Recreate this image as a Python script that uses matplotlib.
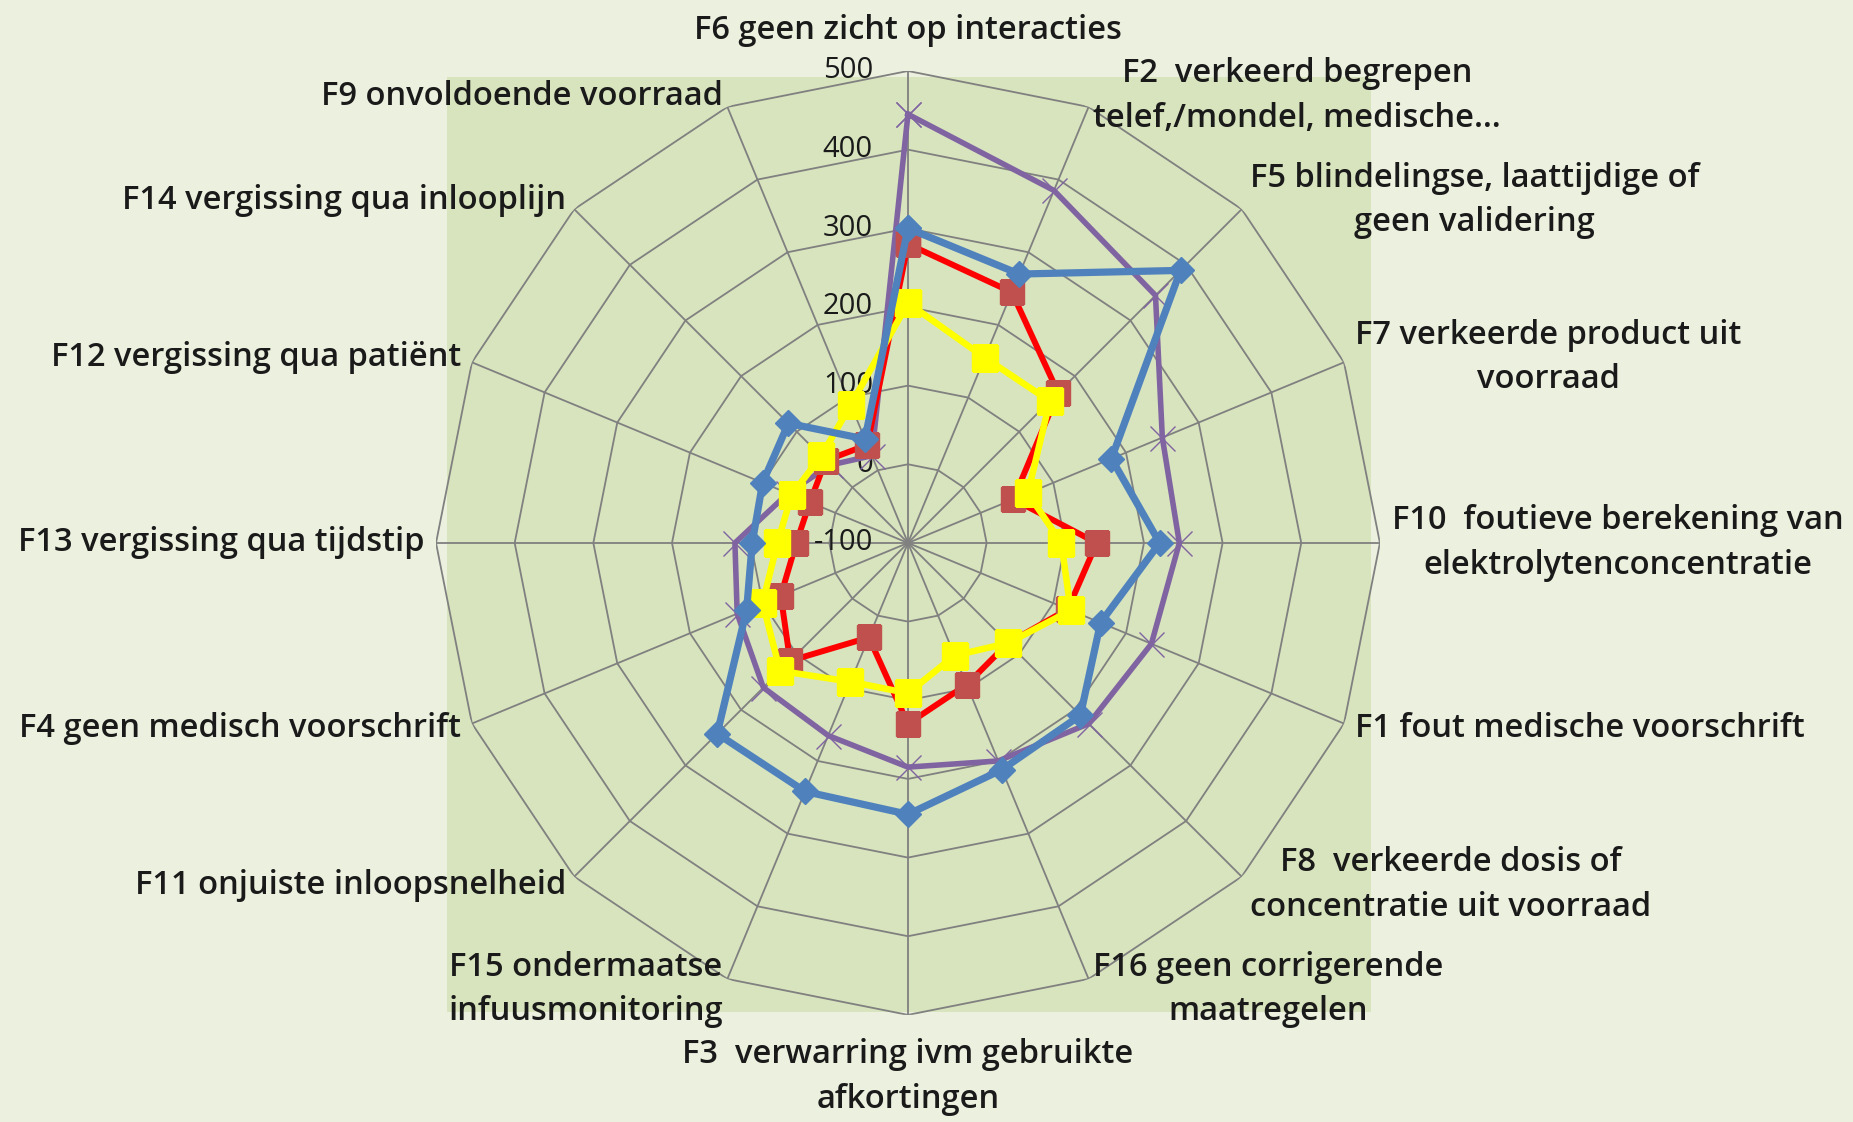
import numpy as np
import matplotlib.pyplot as plt

# categories, clockwise from the top
categories = [
    'F6 geen zicht op interacties',
    'F2  verkeerd begrepen\ntelef,/mondel, medische…',
    'F5 blindelingse, laattijdige of\ngeen validering',
    'F7 verkeerde product uit\nvoorraad',
    'F10  foutieve berekening van\nelektrolytenconcentratie',
    'F1 fout medische voorschrift',
    'F8  verkeerde dosis of\nconcentratie uit voorraad',
    'F16 geen corrigerende\nmaatregelen',
    'F3  verwarring ivm gebruikte\nafkortingen',
    'F15 ondermaatse\ninfuusmonitoring',
    'F11 onjuiste inloopsnelheid',
    'F4 geen medisch voorschrift',
    'F13 vergissing qua tijdstip',
    'F12 vergissing qua patiënt',
    'F14 vergissing qua inlooplijn',
    'F9 onvoldoende voorraad',
]
purple = [445, 385, 345, 250, 245, 235, 225, 200, 185, 165, 160, 135, 120, 65, 40, 20]
blue = [300, 270, 390, 180, 220, 165, 210, 212, 245, 242, 243, 122, 98, 100, 115, 43]
red = [280, 245, 170, 45, 140, 120, 80, 95, 130, 30, 112, 75, 42, 35, 48, 35]
yellow = [205, 155, 155, 65, 95, 124, 80, 55, 91, 91, 130, 100, 66, 60, 56, 90]
ring_values = [-100, 0, 100, 200, 300, 400, 500]

plt.rcParams['font.family'] = ['Open Sans', 'DejaVu Sans']

fig = plt.figure(figsize=(18.53, 11.22), dpi=100, facecolor='#EBF1DE')

# plot area
bg = fig.add_axes([0.2412, 0.098, 0.4986, 0.8333])
bg.set_facecolor('#D7E4BD')
bg.set_xticks([])
bg.set_yticks([])
for s in bg.spines.values():
    s.set_visible(False)

ax = fig.add_axes([0.2353, 0.0954, 0.5094, 0.8414], projection='polar')
ax.set_facecolor('none')
ax.set_theta_zero_location('N')
ax.set_theta_direction(-1)
ax.set_ylim(ring_values[0], ring_values[-1])
ax.grid(False)
ax.set_xticks([])
ax.set_yticks([])
ax.spines['polar'].set_visible(False)

n = len(categories)
angles = np.linspace(0, 2 * np.pi, n, endpoint=False)
closed = np.append(angles, angles[0])

def close(vals):
    return list(vals) + [vals[0]]

# polygon grid
for r in ring_values[1:]:
    ax.plot(closed, [r] * (n + 1), color='#808080', lw=1.3, zorder=1)
for a in angles:
    ax.plot([a, a], [ring_values[0], ring_values[-1]], color='#808080', lw=1.3, zorder=1)

for v in ring_values:
    ax.annotate(str(v), xy=(0, v), xytext=(-35, 0), textcoords='offset pixels',
                ha='right', va='center', fontsize=21, color='#1a1a1a')

ax.plot(closed, close(purple), color='#8064A2', lw=4, marker='x', markersize=18,
        markeredgewidth=1.0, zorder=3)
ax.plot(closed, close(red), color='#FF0000', lw=4.3, marker='s', markersize=17,
        markerfacecolor='#C0504D', markeredgecolor='#C0504D', zorder=4)
ax.plot(closed, close(yellow), color='#FFFF00', lw=4.7, marker='s', markersize=19,
        markerfacecolor='#FFFF00', markeredgecolor='#FFFF00', zorder=5)
ax.plot(closed, close(blue), color='#4F81BD', lw=5.2, marker='D', markersize=13,
        markerfacecolor='#4F81BD', markeredgecolor='#4F81BD', zorder=6)

# category labels
for a, lab in zip(angles, categories):
    sx, cy = np.sin(a), np.cos(a)
    if abs(sx) < 0.1:
        ha = 'center'
        va = 'bottom' if cy > 0 else 'top'
        r = 530
    else:
        ha = 'left' if sx > 0 else 'right'
        va = 'center'
        r = 515
    ax.text(a, r, lab, ha=ha, va=va, multialignment='center', fontsize=23.5,
            fontweight='semibold', color='#1a1a1a', linespacing=1.45)

fig.savefig('out.png', dpi=100, facecolor=fig.get_facecolor())
